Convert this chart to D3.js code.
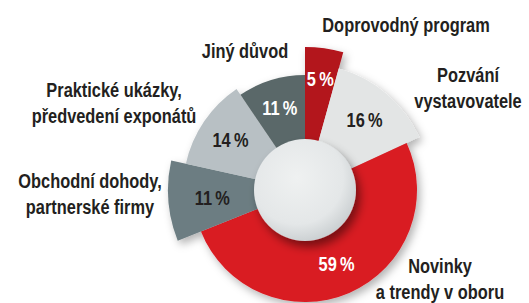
<!DOCTYPE html>
<html>
<head>
<meta charset="utf-8">
<script src="https://cdn.jsdelivr.net/npm/d3@7"></script>
<style>
  html, body { margin: 0; padding: 0; background: #fff; }
  svg text { font-family: "Liberation Sans", Arial, sans-serif; font-weight: bold; }
</style>
</head>
<body>
<svg id="chart" width="529" height="303"></svg>
<script>
// answers (multiple choice, sums over 100 %)
var categories = ["Doprovodný program", "Pozvání vystavovatele", "Novinky a trendy v oboru",
    "Obchodní dohody, partnerské firmy", "Praktické ukázky, předvedení exponátů", "Jiný důvod"];
var values = [5, 16, 59, 11, 14, 11];
var labelLines = [
    ["Doprovodný program"],
    ["Pozvání", "vystavovatele"],
    ["Novinky", "a trendy v oboru"],
    ["Obchodní dohody,", "partnerské firmy"],
    ["Praktické ukázky,", "předvedení exponátů"],
    ["Jiný důvod"]
];

// layout
var colors = ["#b3121b", "#e3e5e5", "#d91b24", "#6c7d82", "#b8c0c4", "#5a6869"];
var pctColors = ["#fff", "#231f20", "#fff", "#231f20", "#231f20", "#fff"];
var outerR = [143, 126, 112, 137, 122, 115];
var pctR = [113, 92, 80, 93, 90, 86];
var labelXY = [[406, 32], [468, 82], [440, 273], [90, 188], [114, 97], [245, 58]];
var cx = 305, cy = 190, holeR = 51;
var squeeze = 0.78;

var svg = d3.select("#chart");
var defs = svg.append("defs");

var sh = defs.append("filter").attr("id", "shadow")
    .attr("x", "-30%").attr("y", "-30%").attr("width", "160%").attr("height", "160%");
sh.append("feDropShadow").attr("dx", 3).attr("dy", 4).attr("stdDeviation", 4)
    .attr("flood-color", "#000").attr("flood-opacity", 0.3);

var sh2 = defs.append("filter").attr("id", "holeShadow")
    .attr("x", "-40%").attr("y", "-40%").attr("width", "180%").attr("height", "180%");
sh2.append("feDropShadow").attr("dx", 4).attr("dy", 6).attr("stdDeviation", 5)
    .attr("flood-color", "#000").attr("flood-opacity", 0.45);

var grad = defs.append("radialGradient").attr("id", "holeGrad")
    .attr("cx", "42%").attr("cy", "38%").attr("r", "65%");
grad.append("stop").attr("offset", "0%").attr("stop-color", "#eff1f1");
grad.append("stop").attr("offset", "70%").attr("stop-color", "#e4e7e8");
grad.append("stop").attr("offset", "100%").attr("stop-color", "#c9ced0");

var pie = d3.pie().sort(null).value(d => d)(values);

var g = svg.append("g").attr("transform", `translate(${cx},${cy})`);

g.append("g").attr("filter", "url(#shadow)")
    .selectAll("path")
    .data(pie)
    .enter().append("path")
    .attr("fill", (d, i) => colors[i])
    .attr("d", (d, i) => d3.arc().innerRadius(0).outerRadius(outerR[i])(d));

g.append("circle")
    .attr("r", holeR)
    .attr("fill", "url(#holeGrad)")
    .attr("filter", "url(#holeShadow)");

g.selectAll("text.pct")
    .data(pie)
    .enter().append("text")
    .attr("class", "pct")
    .attr("transform", (d, i) => {
        let c = d3.arc().innerRadius(pctR[i]).outerRadius(pctR[i]).centroid(d);
        return `translate(${c[0]},${c[1]}) scale(${squeeze},1)`;
    })
    .attr("text-anchor", "middle")
    .attr("dy", "0.36em")
    .attr("font-size", 21)
    .attr("fill", (d, i) => pctColors[i])
    .text(d => d.data + "\u2009%");

var labels = svg.selectAll("text.lbl")
    .data(labelLines)
    .enter().append("text")
    .attr("class", "lbl")
    .attr("text-anchor", "middle")
    .attr("font-size", 21)
    .attr("fill", "#231f20")
    .attr("transform", (d, i) => `translate(${labelXY[i][0]},${labelXY[i][1]}) scale(${squeeze},1)`);

labels.selectAll("tspan")
    .data(d => d)
    .enter().append("tspan")
    .attr("x", 0)
    .attr("y", (d, j) => j * 26)
    .text(d => d);
</script>
</body>
</html>
